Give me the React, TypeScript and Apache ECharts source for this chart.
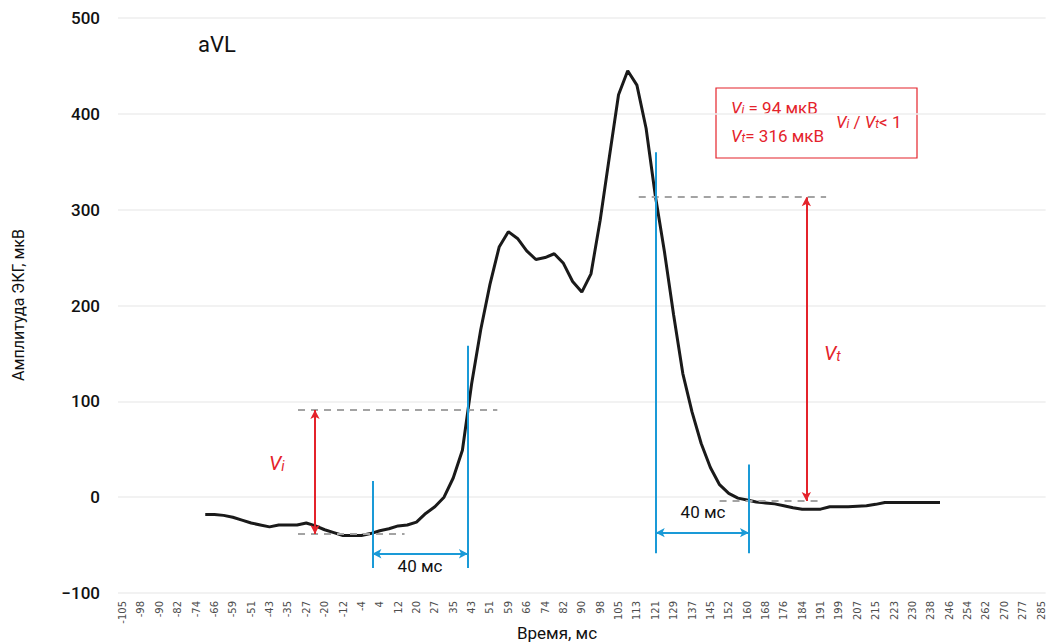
import React, { useEffect, useRef } from 'react';
import * as echarts from 'echarts';

// Time axis, ms (one sample every 3.906 ms)
const timeLabels = [
  '-105', '-102', '-98', '-94', '-90', '-86', '-82', '-78', '-74', '-70',
  '-66', '-63', '-59', '-55', '-51', '-47', '-43', '-39', '-35', '-31',
  '-27', '-23', '-20', '-16', '-12', '-8', '-4', '0', '4', '8',
  '12', '16', '20', '23', '27', '31', '35', '39', '43', '47',
  '51', '55', '59', '63', '66', '70', '74', '78', '82', '86',
  '90', '94', '98', '102', '105', '109', '113', '117', '121', '125',
  '129', '133', '137', '141', '145', '148', '152', '156', '160', '164',
  '168', '172', '176', '180', '184', '188', '191', '195', '199', '203',
  '207', '211', '215', '219', '223', '227', '230', '234', '238', '242',
  '246', '250', '254', '258', '262', '266', '270', '273', '277', '281',
  '285',
];

// ECG amplitude, µV (null where no signal)
const amplitude: (number | null)[] = [
  null, null, null, null, null, null, null, null, null, -18,
  -18, -19, -21, -24, -27, -29, -31, -29, -29, -29,
  -27, -30, -34, -37, -40, -40, -40, -38, -35, -33,
  -30, -29, -26, -17, -10, 0, 20, 49, 118, 175,
  222, 261, 277, 270, 257, 248, 250, 254, 244, 225,
  214, 233, 289, 355, 420, 445, 430, 385, 315, 256,
  190, 129, 89, 56, 31, 13, 4, -1, -3, -5,
  -6, -7, -9, -11, -12.5, -12.5, -12.5, -10, -10, -10,
  -9.5, -9, -7.5, -5.5, -5.5, -5.5, -5.5, -5.5, -5.5, -5.5,
  null, null, null, null, null, null, null, null, null, null,
  null,
];

// Annotation levels (µV) and sample positions (sample index units)
const viTop = 91;
const viBase = -38.5;
const vtTop = 313;
const vtBase = -4;
const viDashTop = [19.1, 40.8];
const viDashBase = [19.1, 30.7];
const viArrowX = 20.95;
const vtDashTop = [56.2, 76.6];
const vtDashBase = [65.0, 76.2];
const vtArrowX = 74.45;
const leftWindow = { x1: 27.2, x2: 37.6, top1: 17, top2: 158, bottom: -74, arrowY: -59 };
const rightWindow = { x1: 58.05, x2: 68.2, top1: 360, top2: 34, bottom: -58.5, arrowY: -37 };

const RED = '#e4232b';
const BLUE = '#1a9ad7';
const GRAY = '#a3a3a3';
const FONT = 'Roboto, "Noto Sans", sans-serif';

const richStyles = (size: number) => {
  const subSize = Math.round(size * 0.68);
  return {
    v: { fontSize: size, fontFamily: FONT, fontStyle: 'italic', fill: RED, verticalAlign: 'bottom', lineHeight: size + 3 },
    r: { fontSize: size, fontFamily: FONT, fontStyle: 'normal', fill: RED, verticalAlign: 'bottom', lineHeight: size + 3 },
    s: { fontSize: subSize, fontFamily: FONT, fontStyle: 'italic', fill: RED, verticalAlign: 'bottom', lineHeight: subSize + 1 },
  };
};

export default function App() {
  const ref = useRef<HTMLDivElement>(null);

  useEffect(() => {
    if (!ref.current) return;
    const chart = echarts.init(ref.current, undefined, { renderer: 'svg' });

    const dash = (x: number[], y: number) => [
      { coord: [x[0], y], lineStyle: { color: GRAY, type: [7, 6], width: 2 } },
      { coord: [x[1], y] },
    ];
    const vline = (x: number, y1: number, y2: number) => [
      { coord: [x, y1], lineStyle: { color: BLUE, type: 'solid', width: 2 } },
      { coord: [x, y2] },
    ];
    const arrow = (p1: number[], p2: number[], color: string) => [
      { coord: p1, symbol: 'arrow', symbolSize: [7, 9], lineStyle: { color, type: 'solid', width: 2 }, itemStyle: { color } },
      { coord: p2, symbol: 'arrow', symbolSize: [7, 9], itemStyle: { color } },
    ];

    chart.setOption({
      animation: false,
      grid: { left: 118, right: 0, top: 18, bottom: 50, containLabel: false },
      xAxis: [
        {
          type: 'category',
          data: timeLabels,
          boundaryGap: true,
          axisLine: { show: false },
          axisTick: { show: false },
          splitLine: { show: false },
          axisLabel: {
            interval: 1,
            rotate: 90,
            fontSize: 10,
            color: '#4d4d4d',
            fontFamily: '"DejaVu Sans", sans-serif',
            margin: 8,
          },
        },
        { type: 'value', min: -0.5, max: 100.5, show: false },
      ],
      yAxis: {
        type: 'value',
        min: -100,
        max: 500,
        interval: 100,
        axisLine: { show: false },
        axisTick: { show: false },
        splitLine: { lineStyle: { color: '#eeeeee', width: 1.5 } },
        axisLabel: {
          fontSize: 17,
          color: '#111',
          fontFamily: FONT,
          fontWeight: 500,
          margin: 18,
          formatter: (v: number) => (v < 0 ? '\u2212' + Math.abs(v) : String(v)),
        },
      },
      series: [
        {
          name: 'aVL',
          type: 'line',
          xAxisIndex: 0,
          data: amplitude,
          symbol: 'none',
          connectNulls: false,
          lineStyle: { color: '#1a1a1a', width: 3 },
          z: 3,
        },
        {
          name: 'annotations',
          type: 'line',
          xAxisIndex: 1,
          data: [],
          silent: true,
          z: 4,
          markLine: {
            silent: true,
            symbol: 'none',
            label: { show: false },
            emphasis: { disabled: true },
            data: [
              dash(viDashTop, viTop),
              dash(viDashBase, viBase),
              dash(vtDashTop, vtTop),
              dash(vtDashBase, vtBase),
              vline(leftWindow.x1, leftWindow.top1, leftWindow.bottom),
              vline(leftWindow.x2, leftWindow.top2, leftWindow.bottom),
              vline(rightWindow.x1, rightWindow.top1, rightWindow.bottom),
              vline(rightWindow.x2, rightWindow.top2, rightWindow.bottom),
              arrow([leftWindow.x1, leftWindow.arrowY], [leftWindow.x2, leftWindow.arrowY], BLUE),
              arrow([rightWindow.x1, rightWindow.arrowY], [rightWindow.x2, rightWindow.arrowY], BLUE),
              arrow([viArrowX, viTop], [viArrowX, viBase], RED),
              arrow([vtArrowX, vtTop], [vtArrowX, vtBase], RED),
            ],
          },
        },
      ],
      graphic: [
        {
          type: 'text', left: 198, top: 33,
          style: { text: 'aVL', fontSize: 22, fontFamily: FONT, fill: '#111' },
        },
        {
          type: 'text', x: 18, y: 305, rotation: Math.PI / 2,
          style: { text: 'Амплитуда ЭКГ, мкВ', fontSize: 16, fontFamily: FONT, fill: '#111', align: 'center', verticalAlign: 'middle' },
        },
        {
          type: 'text', x: 557, y: 633,
          style: { text: 'Время, мс', fontSize: 17, fontFamily: FONT, fill: '#111', align: 'center', verticalAlign: 'middle' },
        },
        {
          type: 'text', x: 420, y: 566,
          style: { text: '40 мс', fontSize: 17, fontFamily: FONT, fill: '#111', align: 'center', verticalAlign: 'middle' },
        },
        {
          type: 'text', x: 703, y: 512,
          style: { text: '40 мс', fontSize: 17, fontFamily: FONT, fill: '#111', align: 'center', verticalAlign: 'middle' },
        },
        {
          type: 'text', x: 269, y: 450,
          style: { text: '{v|V}{s|i}', rich: richStyles(20) },
        },
        {
          type: 'text', x: 824, y: 340,
          style: { text: '{v|V}{s|t}', rich: richStyles(20) },
        },
        {
          type: 'rect',
          shape: { x: 716, y: 88, width: 201, height: 70 },
          style: { fill: '#fff', stroke: RED, lineWidth: 1.2 },
        },
        {
          type: 'text', x: 731, y: 96,
          style: { text: '{v|V}{s|i}{r| = 94 мкВ}', rich: richStyles(17) },
        },
        {
          type: 'text', x: 731, y: 124,
          style: { text: '{v|V}{s|t}{r|= 316 мкВ}', rich: richStyles(17) },
        },
        {
          type: 'text', x: 836, y: 110,
          style: { text: '{v|V}{s|i}{r| / }{v|V}{s|t}{r|< 1}', rich: richStyles(17) },
        },
      ],
    });

    return () => chart.dispose();
  }, []);

  return (
    <div
      ref={ref}
      style={{ position: 'fixed', left: 0, top: 0, width: 1046, height: 643, background: '#fff' }}
    />
  );
}
